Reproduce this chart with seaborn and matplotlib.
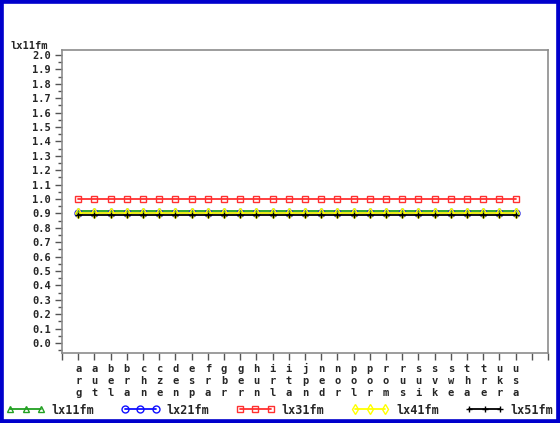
import matplotlib

matplotlib.use("Agg")
import matplotlib.pyplot as plt
import matplotlib.transforms as mtransforms
import seaborn as sns
from matplotlib.patches import Rectangle
from matplotlib.ticker import MultipleLocator

countries = ["arg", "aut", "bel", "bra", "chn", "cze", "den", "esp", "fra", "gbr",
             "ger", "hun", "irl", "ita", "jpn", "ned", "nor", "pol", "por", "rom",
             "rus", "sui", "svk", "swe", "tha", "tre", "ukr", "usa"]

lx11fm = [0.915, 0.915, 0.915, 0.915, 0.915, 0.915, 0.915, 0.915, 0.915, 0.915,
          0.915, 0.915, 0.915, 0.915, 0.915, 0.915, 0.915, 0.915, 0.915, 0.915,
          0.915, 0.915, 0.915, 0.915, 0.915, 0.915, 0.915, 0.915]
lx21fm = [0.90, 0.90, 0.90, 0.90, 0.90, 0.90, 0.90, 0.90, 0.90, 0.90,
          0.90, 0.90, 0.90, 0.90, 0.90, 0.90, 0.90, 0.90, 0.90, 0.90,
          0.90, 0.90, 0.90, 0.90, 0.90, 0.90, 0.90, 0.90]
lx31fm = [1.0, 1.0, 1.0, 1.0, 1.0, 1.0, 1.0, 1.0, 1.0, 1.0,
          1.0, 1.0, 1.0, 1.0, 1.0, 1.0, 1.0, 1.0, 1.0, 1.0,
          1.0, 1.0, 1.0, 1.0, 1.0, 1.0, 1.0, 1.0]
lx41fm = [0.90, 0.90, 0.90, 0.90, 0.90, 0.90, 0.90, 0.90, 0.90, 0.90,
          0.90, 0.90, 0.90, 0.90, 0.90, 0.90, 0.90, 0.90, 0.90, 0.90,
          0.90, 0.90, 0.90, 0.90, 0.90, 0.90, 0.90, 0.90]
lx51fm = [0.89, 0.89, 0.89, 0.89, 0.89, 0.89, 0.89, 0.89, 0.89, 0.89,
          0.89, 0.89, 0.89, 0.89, 0.89, 0.89, 0.89, 0.89, 0.89, 0.89,
          0.89, 0.89, 0.89, 0.89, 0.89, 0.89, 0.89, 0.89]

series = [
    ("lx11fm", lx11fm, "#22a022", "^"),
    ("lx21fm", lx21fm, "#1010ff", "o"),
    ("lx31fm", lx31fm, "#ff3030", "s"),
    ("lx41fm", lx41fm, "#ffff00", "d"),
    ("lx51fm", lx51fm, "#000000", "+"),
]

sns.set_style("white")
plt.rcParams["font.family"] = ["DejaVu Sans Mono", "DejaVu Sans"]
plt.rcParams["font.weight"] = "bold"

fig = plt.figure(figsize=(5.6, 4.23), dpi=100)
ax = fig.add_axes([0.1107, 0.1655, 0.8679, 0.7163])

for name, vals, color, marker in series:
    sns.lineplot(x=countries, y=vals, ax=ax, color=color, marker=marker,
                 markersize=5, markerfacecolor="none", markeredgecolor=color,
                 markeredgewidth=1, linewidth=1.3, label=name, sort=False)

ax.set_xlim(-1, 29)
ax.set_xticks(range(-1, 30))
ax.set_xticklabels([])
# country codes written one letter per row under each tick
trans = mtransforms.blended_transform_factory(ax.transData, ax.transAxes)
for i, code in enumerate(countries):
    for r, ch in enumerate(code):
        ax.text(i, -0.052 - r * 0.0405, ch, transform=trans, ha="center",
                va="center", fontsize=7.5, clip_on=False)

ax.yaxis.set_minor_locator(MultipleLocator(0.05))
ax.set_yticks([i / 10 for i in range(21)])
ax.set_yticklabels([f"{i / 10:.1f}" for i in range(21)], fontsize=7.5)
ax.set_ylim(-0.07, 2.035)
ax.tick_params(axis="both", which="major", direction="out", length=5, width=1,
               color="#555555", pad=3, left=True, bottom=True)
ax.tick_params(axis="y", which="minor", direction="out", length=3, width=1,
               color="#555555", left=True)
for s in ax.spines.values():
    s.set_color("#8c8c8c")
    s.set_linewidth(1.2)
ax.set_xlabel("")
ax.set_ylabel("")
ax.get_legend().remove()

fig.text(0.018, 1 - 46 / 423, "lx11fm", fontsize=7.5, va="center", ha="left")

handles, labels = ax.get_legend_handles_labels()
fig.legend(handles, labels, loc="center left", bbox_to_anchor=(0.008, 1 - 410 / 423),
           ncol=5, frameon=False, fontsize=8.5, handlelength=3.2, numpoints=3,
           handletextpad=0.6, columnspacing=2.3, borderaxespad=0, borderpad=0.2)

fig.patches.append(Rectangle((0, 0), 1, 1, transform=fig.transFigure, fill=False,
                             edgecolor="#0000cc", linewidth=5.5, zorder=10))

plt.savefig("out.png", dpi=100)
plt.close()
